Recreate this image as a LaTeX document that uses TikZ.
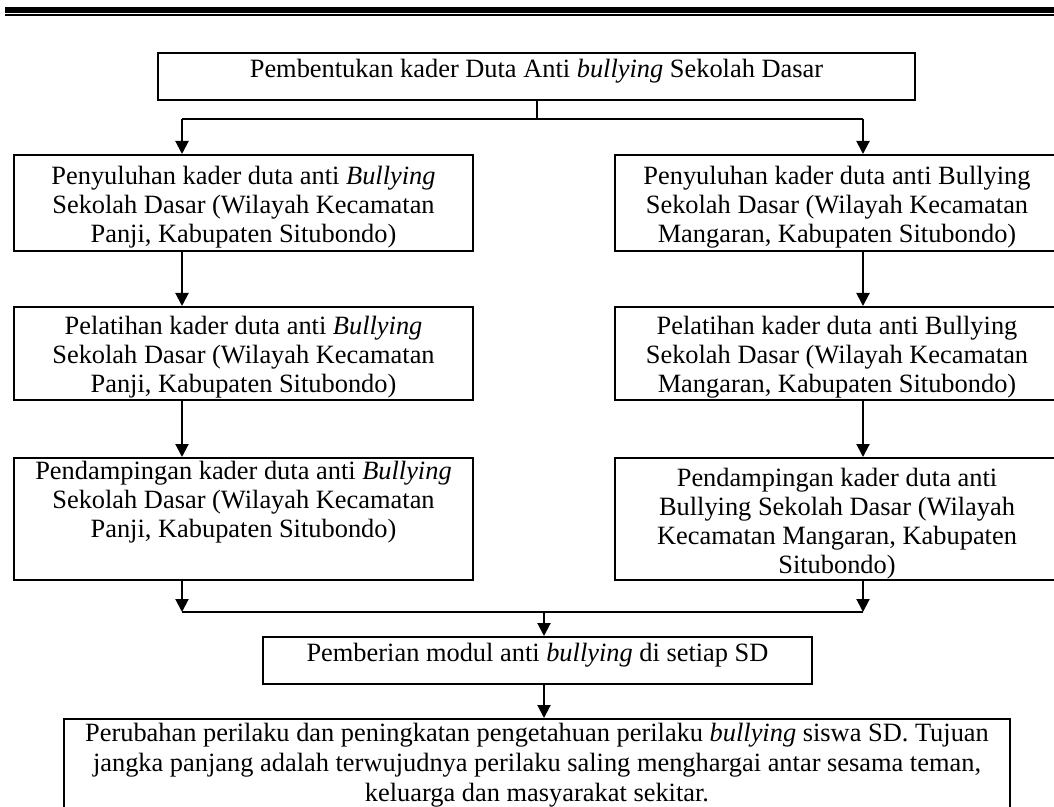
\documentclass[tikz,border=0pt]{standalone}
\usepackage{fontspec}
\setmainfont{Liberation Serif}
\usetikzlibrary{arrows.meta}

\tikzset{
  kotak/.style={draw, line width=1pt, anchor=north west, align=center, inner xsep=0pt,
    inner ysep=0pt, font=\fontsize{13.2}{14.5}\selectfont},
  kotaksatu/.style={kotak, text height=12.25pt, text depth=11.25pt},
  garis/.style={line width=1pt},
  panah/.style={line width=1pt, -{Triangle[length=6.5pt,width=6.5pt]}},
}

\begin{document}
\begin{tikzpicture}[x=0.5pt, y=-0.5pt]
  % page, cut at the edges like the scan
  \useasboundingbox (0,0) rectangle (1054,807);
  \clip (0,0) rectangle (1054,807);
  % double rule at the top
  \draw[line width=3pt] (5,9.7) -- (1054,9.7);
  \draw[line width=1pt] (5,15) -- (1054,15);

  % boxes (north west corners)
  \node[kotaksatu, minimum width=378.5pt] (atas) at (157,52)
    {Pembentukan kader Duta Anti \textit{bullying} Sekolah Dasar};
  \node[kotak, minimum width=229.5pt, text height=44pt, text depth=4pt] (kiri1) at (13,154)
    {Penyuluhan kader duta anti \textit{Bullying}\\ Sekolah Dasar (Wilayah Kecamatan\\ Panji, Kabupaten Situbondo)};
  \node[kotak, minimum width=222pt, text height=44pt, text depth=4pt] (kanan1) at (614,154)
    {Penyuluhan kader duta anti Bullying\\ Sekolah Dasar (Wilayah Kecamatan\\ Mangaran, Kabupaten Situbondo)};
  \node[kotak, minimum width=229.5pt, text height=43pt, text depth=3.5pt] (kiri2) at (13,306)
    {Pelatihan kader duta anti \textit{Bullying}\\ Sekolah Dasar (Wilayah Kecamatan\\ Panji, Kabupaten Situbondo)};
  \node[kotak, minimum width=222pt, text height=43pt, text depth=3.5pt] (kanan2) at (614,306)
    {Pelatihan kader duta anti Bullying\\ Sekolah Dasar (Wilayah Kecamatan\\ Mangaran, Kabupaten Situbondo)};
  \node[kotak, minimum width=229.5pt, text height=39.5pt, text depth=21.5pt] (kiri3) at (13,457)
    {Pendampingan kader duta anti \textit{Bullying}\\ Sekolah Dasar (Wilayah Kecamatan\\ Panji, Kabupaten Situbondo)};
  \node[kotak, minimum width=222pt, text height=57.5pt, text depth=3.5pt] (kanan3) at (614,457)
    {Pendampingan kader duta anti\\ Bullying Sekolah Dasar (Wilayah\\ Kecamatan Mangaran, Kabupaten\\ Situbondo)};
  \node[kotaksatu, minimum width=274.5pt] (modul) at (262,636)
    {Pemberian modul anti \textit{bullying} di setiap SD};
  \node[kotak, minimum width=473pt, text height=41pt, text depth=16.5pt,
    font=\fontsize{13.2}{15}\selectfont] (akhir) at (63,718)
    {Perubahan perilaku dan peningkatan pengetahuan perilaku \textit{bullying} siswa SD. Tujuan\\
     jangka panjang adalah terwujudnya perilaku saling menghargai antar sesama teman,\\
     keluarga dan masyarakat sekitar.};

  % where the arrows run
  \coordinate (kiriX) at (182,0);
  \coordinate (kananX) at (863,0);
  \coordinate (tengahX) at (544,0);
  \coordinate (busatas) at (0,119);
  \coordinate (busbawah) at (0,612);

  % split to both columns
  \draw[garis] (atas.south) -- (atas.south |- busatas);
  \draw[garis] (busatas -| kiriX) -- (busatas -| kananX);
  \draw[panah] (busatas -| kiriX) -- (kiri1.north -| kiriX);
  \draw[panah] (busatas -| kananX) -- (kanan1.north -| kananX);

  % down each column
  \foreach \i/\j in {1/2, 2/3} {
    \draw[panah] (kiri\i.south -| kiriX) -- (kiri\j.north -| kiriX);
    \draw[panah] (kanan\i.south -| kananX) -- (kanan\j.north -| kananX);
  }

  % join again
  \draw[panah] (kiri3.south -| kiriX) -- (busbawah -| kiriX);
  \draw[panah] (kanan3.south -| kananX) -- (busbawah -| kananX);
  \draw[garis] (busbawah -| kiriX) -- (busbawah -| kananX);
  \draw[panah] (busbawah -| tengahX) -- (modul.north -| tengahX);
  \draw[panah] (modul.south -| tengahX) -- (akhir.north -| tengahX);
\end{tikzpicture}
\end{document}
